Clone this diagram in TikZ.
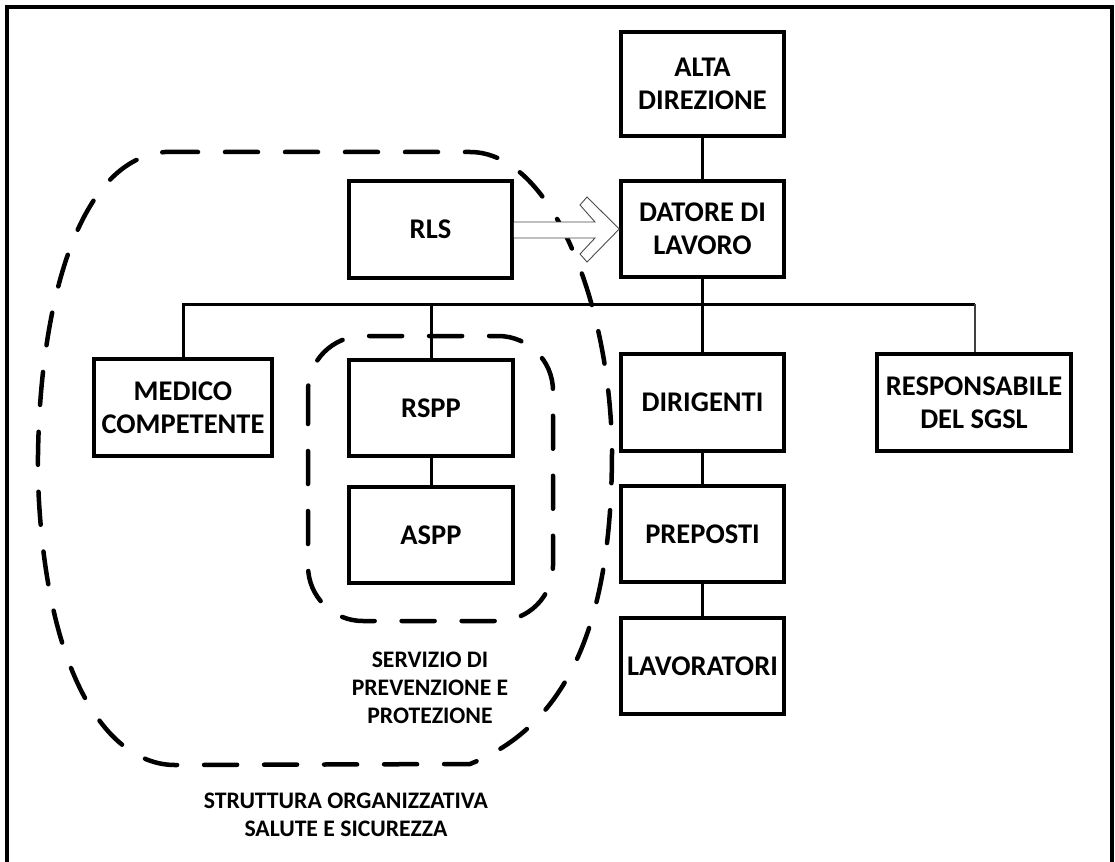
\documentclass[tikz,border=0pt]{standalone}
\usepackage{fontspec}
\setmainfont{Carlito}
\begin{document}
\begin{tikzpicture}[x=1pt,y=-1pt,
  box/.style={draw, line width=3.5pt, align=center, inner sep=0pt,
    font=\fontsize{28.5}{33}\selectfont\bfseries},
  lbl/.style={align=center, inner sep=0pt, font=\fontsize{23.7}{28}\selectfont\bfseries},
  conn/.style={line width=3pt},
  thinconn/.style={line width=1.5pt, black!75},
  dashline/.style={line width=4.5pt, line cap=round, dash pattern=on 33pt off 27pt},
  blockarrow/.style={draw=black!70, fill=white, line width=0.9pt, line join=miter}
]
\useasboundingbox (0,0) rectangle (1115,861);
\fill[white] (0,0) rectangle (1115,861);
% outer frame
\draw[line width=3.5pt] (7,880) -- (7,7) -- (1112,7) -- (1112,880);

% dashed groupings
\draw[dashline] (165,152) -- (470,152)
  .. controls (550,152) and (610,300) .. (612,450)
  .. controls (612,600) and (580,720) .. (470,764)
  -- (175,765)
  .. controls (110,765) and (45,680) .. (38,480)
  .. controls (36,330) and (70,160) .. (165,152) -- cycle;
\draw[dashline, rounded corners=55pt] (308,336) rectangle (553,621);

% boxes
\node[box, minimum width=163pt, minimum height=104pt] (alta) at (702.5,84) {ALTA\\DIREZIONE};
\node[box, minimum width=163pt, minimum height=96pt] (datore) at (702.5,229) {DATORE DI\\LAVORO};
\node[box, minimum width=163pt, minimum height=97pt] (rls) at (430.5,229.5) {RLS};
\node[box, minimum width=178pt, minimum height=97pt] (medico) at (183,407.5) {MEDICO\\COMPETENTE};
\node[box, minimum width=164pt, minimum height=96pt] (rspp) at (431,408) {RSPP};
\node[box, minimum width=164pt, minimum height=96pt] (aspp) at (431,535) {ASPP};
\node[box, minimum width=163pt, minimum height=97pt] (dirigenti) at (702.5,402.5) {DIRIGENTI};
\node[box, minimum width=163pt, minimum height=96pt] (preposti) at (702.5,534) {PREPOSTI};
\node[box, minimum width=163pt, minimum height=96pt] (lavoratori) at (702.5,666) {LAVORATORI};
\node[box, minimum width=194pt, minimum height=97pt] (resp) at (974,402.5) {RESPONSABILE\\DEL SGSL};

% free labels
\node[lbl] (spp) at (430,688) {SERVIZIO DI\\PREVENZIONE E\\PROTEZIONE};
\node[lbl] (sosl) at (346,815) {STRUTTURA ORGANIZZATIVA\\SALUTE E SICUREZZA};

% connectors
\coordinate (busL) at (183,304);
\coordinate (busR) at (975,304);
\draw[conn] (alta.south) -- (datore.north);
\draw[conn] (datore.south) -- (dirigenti.north);
\draw[conn] (medico.north) |- (busR);
\draw[conn] (rspp.north) -- (rspp.north |- busL);
\draw[thinconn] (busR) -- (busR |- resp.north);
\draw[conn] (rspp.south) -- (aspp.north);
\draw[conn] (dirigenti.south) -- (preposti.north);
\draw[conn] (preposti.south) -- (lavoratori.north);

% hollow block arrow RLS -> DATORE
\draw[blockarrow] (rls.east |- 0,222) -- (595,222) -- (580,205) -- (587,197)
  -- (datore.west) -- (587,262) -- (580,254) -- (595,238) -- (rls.east |- 0,238);
\end{tikzpicture}
\end{document}
